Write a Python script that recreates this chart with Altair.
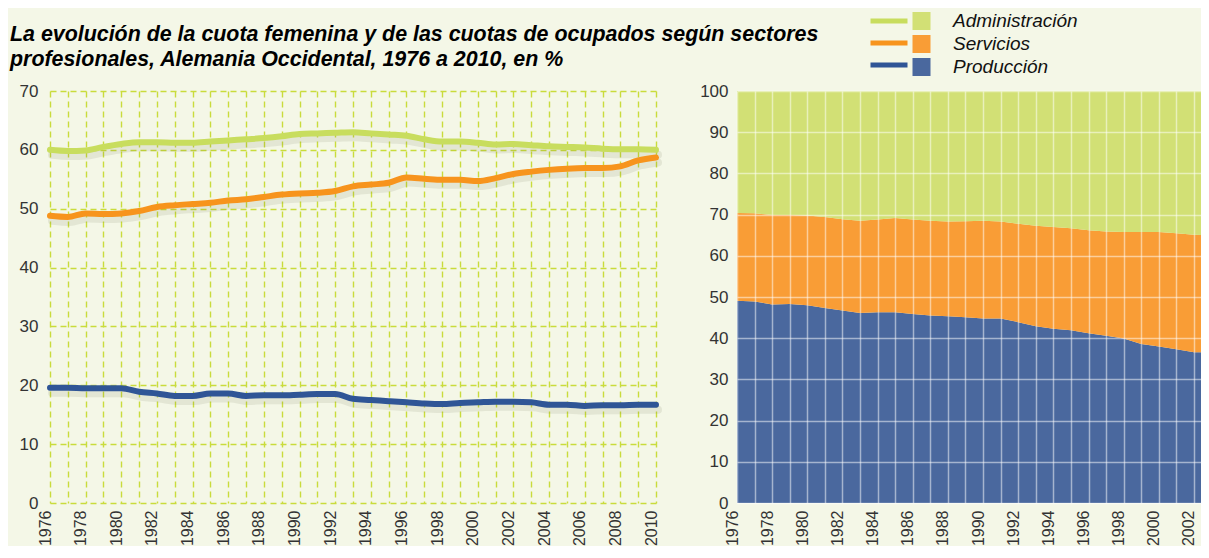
import altair as alt
import pandas as pd

TITLE_LINES = [
    "La evolución de la cuota femenina y de las cuotas de ocupados según sectores",
    "profesionales, Alemania Occidental, 1976 a 2010, en %",
]
SECTORS = ["Administración", "Servicios", "Producción"]
LINE_COLORS = ["#c8dd5e", "#f7941d", "#2f5596"]
AREA_COLORS = ["#d2e075", "#f99d36", "#4a689e"]

# Left panel: female share (%) by sector, 1976-2010
YEARS = [1976, 1977, 1978, 1979, 1980, 1981, 1982, 1983, 1984, 1985, 1986, 1987,
         1988, 1989, 1990, 1991, 1992, 1993, 1994, 1995, 1996, 1997, 1998, 1999,
         2000, 2001, 2002, 2003, 2004, 2005, 2006, 2007, 2008, 2009, 2010]
FEM_ADMIN = [60.0, 59.8, 59.9, 60.5, 61.0, 61.3, 61.3, 61.2, 61.2, 61.4, 61.6, 61.8,
             62.0, 62.3, 62.7, 62.8, 62.9, 63.0, 62.8, 62.6, 62.4, 61.8, 61.4, 61.4,
             61.2, 60.9, 61.0, 60.8, 60.6, 60.5, 60.4, 60.2, 60.1, 60.1, 60.0]
FEM_SERV = [48.8, 48.6, 49.2, 49.1, 49.2, 49.6, 50.3, 50.6, 50.8, 51.0, 51.4, 51.6,
            52.0, 52.4, 52.6, 52.7, 53.0, 53.8, 54.1, 54.4, 55.3, 55.1, 54.9, 54.9,
            54.7, 55.2, 55.9, 56.3, 56.6, 56.8, 56.9, 56.9, 57.2, 58.2, 58.7]
FEM_PROD = [19.6, 19.6, 19.5, 19.5, 19.5, 18.9, 18.6, 18.2, 18.2, 18.6, 18.6, 18.2,
            18.3, 18.3, 18.4, 18.5, 18.5, 17.7, 17.5, 17.3, 17.1, 16.9, 16.8, 17.0,
            17.1, 17.2, 17.2, 17.1, 16.7, 16.7, 16.5, 16.6, 16.6, 16.7, 16.7]

# Right panel: shares of employed by sector (%), visible part 1976-2002
AREA_YEARS = [1976, 1977, 1978, 1979, 1980, 1981, 1982, 1983, 1984, 1985, 1986, 1987,
              1988, 1989, 1990, 1991, 1992, 1993, 1994, 1995, 1996, 1997, 1998, 1999,
              2000, 2001, 2002, 2003]
SHARE_PROD = [49.1, 48.9, 48.2, 48.3, 48.0, 47.3, 46.7, 46.1, 46.3, 46.3, 45.9, 45.5,
              45.3, 45.1, 44.8, 44.8, 43.9, 42.9, 42.3, 41.9, 41.2, 40.6, 39.9, 38.6,
              38.0, 37.3, 36.6, 36.5]
SHARE_SERV = [21.3, 21.4, 21.7, 21.6, 21.8, 22.1, 22.2, 22.4, 22.5, 22.9, 22.9, 23.0,
              23.0, 23.3, 23.7, 23.5, 23.9, 24.4, 24.7, 24.8, 25.0, 25.3, 25.9, 27.2,
              27.8, 28.2, 28.5, 28.4]
SHARE_ADMIN = [29.6, 29.7, 30.1, 30.1, 30.2, 30.6, 31.1, 31.5, 31.2, 30.8, 31.2, 31.5,
               31.7, 31.6, 31.5, 31.7, 32.2, 32.7, 33.0, 33.3, 33.8, 34.1, 34.2, 34.2,
               34.2, 34.5, 34.9, 35.1]

Y_TICKS_LEFT = [0, 10, 20, 30, 40, 50, 60, 70]
Y_TICKS_RIGHT = [0, 10, 20, 30, 40, 50, 60, 70, 80, 90, 100]
RIGHT_X_MAX = 2002.4

FONT = "Liberation Sans"
BG = "#f4f7e7"

lines_df = pd.DataFrame({
    "año": YEARS * 3,
    "sector": [SECTORS[0]] * len(YEARS) + [SECTORS[1]] * len(YEARS) + [SECTORS[2]] * len(YEARS),
    "valor": FEM_ADMIN + FEM_SERV + FEM_PROD,
})
area_df = pd.DataFrame({
    "año": AREA_YEARS * 3,
    "sector": [SECTORS[2]] * len(AREA_YEARS) + [SECTORS[1]] * len(AREA_YEARS) + [SECTORS[0]] * len(AREA_YEARS),
    "orden": [0] * len(AREA_YEARS) + [1] * len(AREA_YEARS) + [2] * len(AREA_YEARS),
    "valor": SHARE_PROD + SHARE_SERV + SHARE_ADMIN,
})

label_expr = "datum.value % 2 === 0 ? datum.label : ''"

x_left = alt.X(
    "año:Q",
    scale=alt.Scale(domain=[YEARS[0], YEARS[-1]], nice=False),
    axis=alt.Axis(
        title=None, values=YEARS, format="d", labelExpr=label_expr,
        labelAngle=270, labelBaseline="alphabetic", labelFontSize=16, labelFont=FONT,
        labelColor="#333333", labelPadding=7, labelOverlap=False, ticks=False, domain=False,
        grid=True, gridColor="#c9dc3c", gridDash=[6, 4], gridWidth=1.4,
    ),
)
y_left = alt.Y(
    "valor:Q",
    scale=alt.Scale(domain=[0, 70], nice=False),
    axis=alt.Axis(
        title=None, values=Y_TICKS_LEFT, labelFontSize=17, labelFont=FONT,
        labelColor="#333333", labelPadding=12, ticks=False, domain=False,
        grid=True, gridColor="#c9dc3c", gridDash=[6, 4], gridWidth=1.4,
    ),
)

shadow = alt.Chart(lines_df).mark_line(
    interpolate="monotone", strokeWidth=8, color="#5c6040", opacity=0.11,
    xOffset=2, yOffset=5, strokeCap="round",
).encode(x=x_left, y=y_left, detail="sector:N")

lines = alt.Chart(lines_df).mark_line(
    interpolate="monotone", strokeWidth=6, strokeCap="round", strokeJoin="round",
).encode(
    x=x_left,
    y=y_left,
    color=alt.Color("sector:N", scale=alt.Scale(domain=SECTORS, range=LINE_COLORS), legend=None),
)

left = alt.layer(shadow, lines).properties(
    width=606, height=412,
    title=alt.TitleParams(
        TITLE_LINES, anchor="start", frame="group", dx=-40, offset=-9,
        font=FONT, fontSize=21.4, fontStyle="italic", fontWeight="bold",
        color="#000000", lineHeight=25, baseline="bottom",
    ),
)

right_years = [y for y in YEARS if y <= RIGHT_X_MAX]
x_right = alt.X(
    "año:Q",
    scale=alt.Scale(domain=[YEARS[0], RIGHT_X_MAX], nice=False),
    axis=alt.Axis(
        title=None, values=right_years, format="d", labelExpr=label_expr,
        labelAngle=270, labelBaseline="alphabetic", labelFontSize=16, labelFont=FONT,
        labelColor="#333333", labelPadding=7, labelOverlap=False, ticks=False, domain=False,
        grid=True, gridColor="#ffffff", gridOpacity=0.5, gridWidth=1.5, zindex=1,
    ),
)
y_right = alt.Y(
    "valor:Q",
    stack="zero",
    scale=alt.Scale(domain=[0, 100], nice=False),
    axis=alt.Axis(
        title=None, values=Y_TICKS_RIGHT, labelFontSize=17, labelFont=FONT,
        labelColor="#333333", labelPadding=9, ticks=False, domain=False,
        grid=True, gridColor="#ffffff", gridOpacity=0.5, gridWidth=1.5, zindex=1,
    ),
)

areas = alt.Chart(area_df).mark_area(clip=True, interpolate="linear").encode(
    x=x_right,
    y=y_right,
    color=alt.Color(
        "sector:N",
        scale=alt.Scale(domain=SECTORS, range=AREA_COLORS),
        legend=alt.Legend(
            orient="none", legendX=175, legendY=-79, title=None, padding=0,
            symbolType="square", symbolSize=324, symbolStrokeWidth=0,
            symbolOpacity=1, labelFont=FONT, labelFontStyle="italic",
            labelFontSize=19, labelColor="#111111", labelOffset=22,
            rowPadding=4, clipHeight=18,
        ),
    ),
    order=alt.Order("orden:Q"),
)

# invisible line layer that only carries the line-symbol legend
legend_lines = alt.Chart(area_df).mark_line(opacity=0, clip=True).encode(
    x=x_right,
    y=y_right,
    color=alt.Color(
        "sector:N",
        scale=alt.Scale(domain=SECTORS, range=LINE_COLORS),
        legend=alt.Legend(
            orient="none", legendX=131, legendY=-79, title=None, padding=0,
            symbolType="stroke", symbolSize=1369, symbolStrokeWidth=5,
            symbolOpacity=1, labelExpr="''", clipHeight=18, rowPadding=4,
        ),
    ),
    order=alt.Order("orden:Q"),
)

right = alt.layer(areas, legend_lines).resolve_scale(color="independent").properties(
    width=464, height=412
)

chart = alt.hconcat(left, right, spacing=81, bounds="flush").resolve_scale(
    color="independent"
).properties(
    background=BG,
    padding={"left": 2, "top": 4, "right": 0, "bottom": 0},
).configure_view(stroke=None)

chart.save("out.html", embed_options={"renderer": "svg", "actions": False})
